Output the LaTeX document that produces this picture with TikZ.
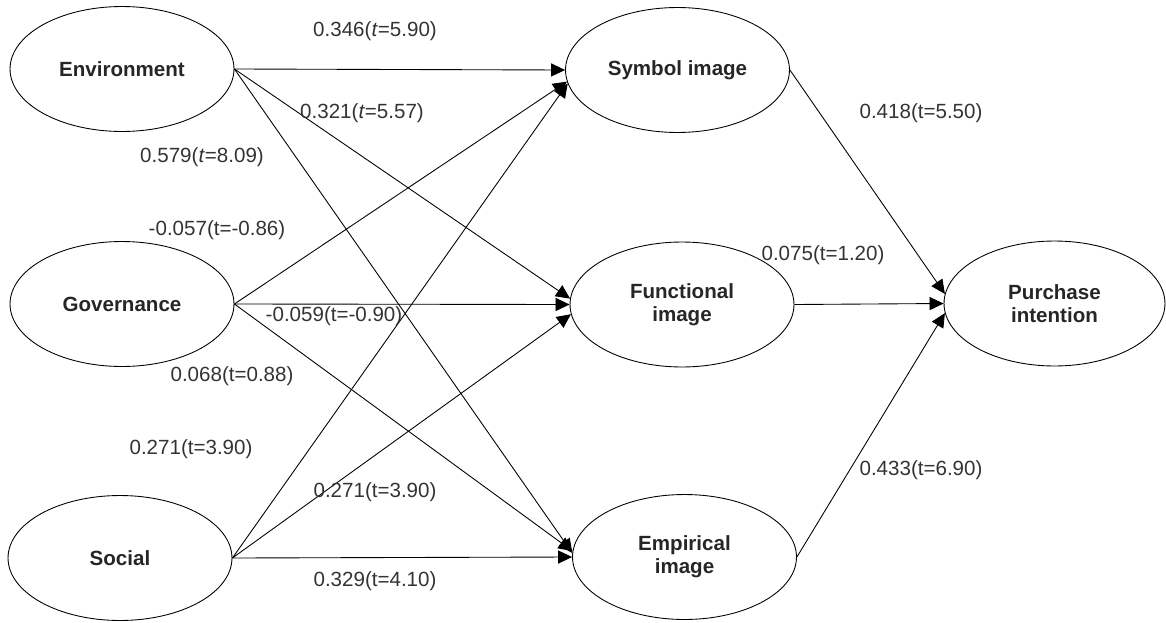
\documentclass[tikz,border=0pt]{standalone}
\usepackage{fontspec}
\setmainfont{Liberation Sans}
\usetikzlibrary{shapes.geometric,arrows.meta}
\begin{document}
\begin{tikzpicture}[x=0.02cm,y=-0.02cm,
  lat/.style={ellipse,draw,line width=0.5pt,inner sep=0pt,minimum width=4.48cm,minimum height=2.5cm,
    font=\fontsize{11.7}{13}\selectfont\bfseries,align=center,text=black!85},
  lab/.style={font=\fontsize{11.7}{13}\selectfont,text=black!80,inner sep=0pt},
  arr/.style={line width=0.5pt,-{Triangle[length=8pt,width=7.5pt]}}]
\useasboundingbox (0,0) rectangle (1166,622);
\node[lat] (env) at (122,69) {Environment};
\node[lat] (gov) at (122,304) {Governance};
\node[lat] (soc) at (120,558) {Social};
\node[lat] (sym) at (677.5,70) {Symbol image};
\node[lat] (fun) at (682,304.5) {Functional\\image};
\node[lat] (emp) at (684.5,557) {Empirical\\image};
\node[lat,minimum width=4.42cm] (pur) at (1054.5,303.5) {Purchase\\intention};
% connectors
\draw[arr] (env.east) -- (sym.west);
\draw[arr] (env.east) -- (fun.177);
\draw[arr] (env.east) -- (emp.178);
\draw[arr] (gov.east) -- (sym.186);
\draw[arr] (gov.east) -- (fun.west);
\draw[arr] (gov.east) -- (emp.177);
\draw[arr] (soc.east) -- (sym.187);
\draw[arr] (soc.east) -- (fun.185);
\draw[arr] (soc.east) -- (emp.west);
\draw[arr] (sym.east) -- (pur.175);
\draw[arr] (fun.east) -- (pur.west);
\draw[arr] (emp.east) -- (pur.185);
% labels
\node[lab] (l1) at (375,31) {0.346(\textit{t}=5.90)};
\node[lab] (l2) at (362,113) {0.321(\textit{t}=5.57)};
\node[lab] (l3) at (202,157) {0.579(\textit{t}=8.09)};
\node[lab] (l4) at (217,230) {-0.057(t=-0.86)};
\node[lab] (l5) at (334,316) {-0.059(t=-0.90)};
\node[lab] (l6) at (232,376) {0.068(t=0.88)};
\node[lab] (l7) at (191,449) {0.271(t=3.90)};
\node[lab] (l8) at (375,492) {0.271(t=3.90)};
\node[lab] (l9) at (375,581) {0.329(t=4.10)};
\node[lab] (l10) at (921,113) {0.418(t=5.50)};
\node[lab] (l11) at (823,255) {0.075(t=1.20)};
\node[lab] (l12) at (921,470) {0.433(t=6.90)};
\end{tikzpicture}
\end{document}
